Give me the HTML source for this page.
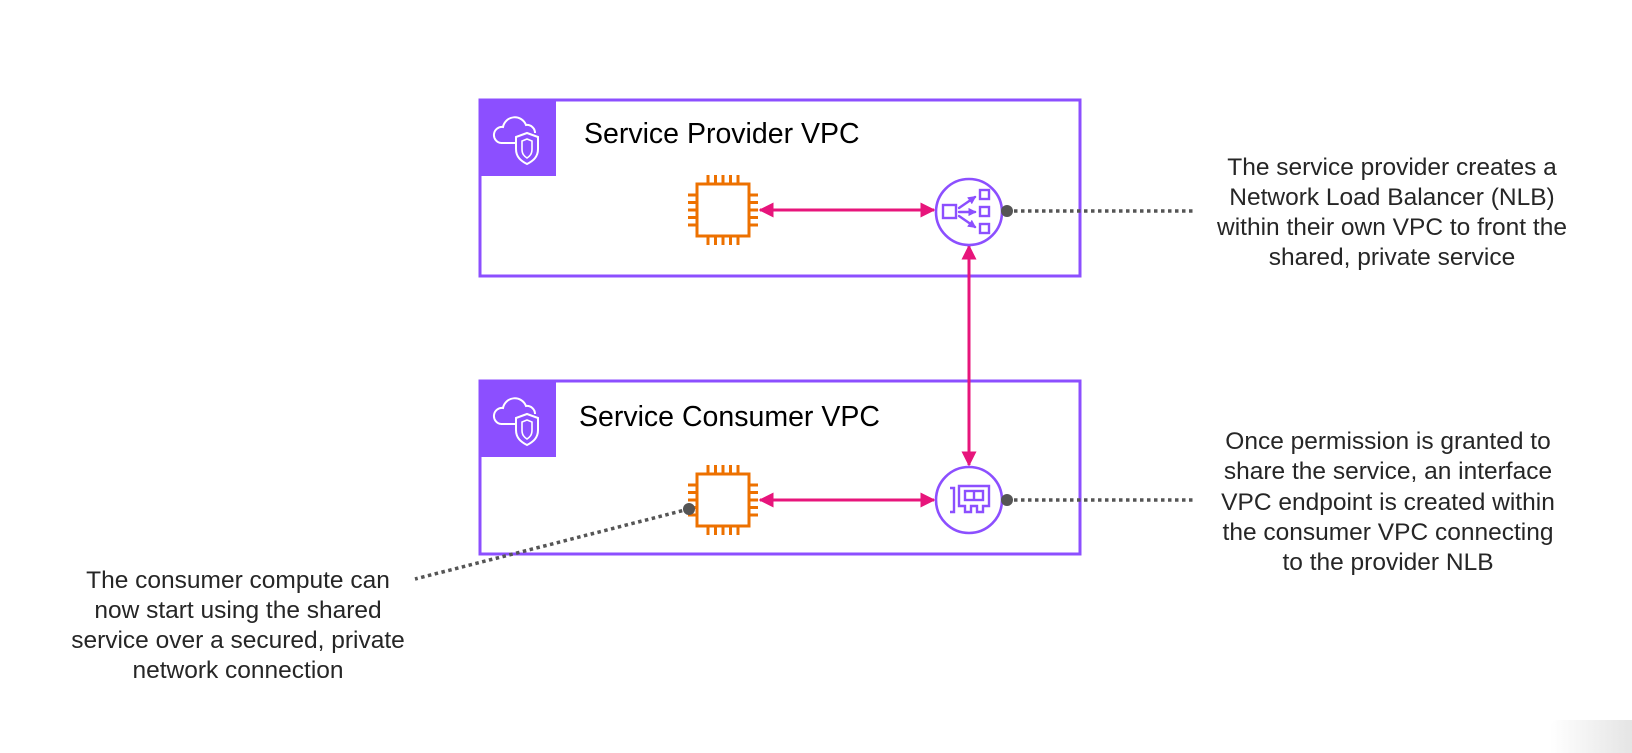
<!DOCTYPE html>
<html><head><meta charset="utf-8"><style>
html,body{margin:0;padding:0;background:#fff;}
svg{display:block}
.t{font-family:"Liberation Sans",sans-serif;font-size:24.5px;fill:#262626;text-anchor:middle}
.h{font-family:"Liberation Sans",sans-serif;font-size:28.5px;fill:#000}
</style></head><body>
<svg width="1632" height="753" viewBox="0 0 1632 753" xmlns="http://www.w3.org/2000/svg">
<defs>
<marker id="a" viewBox="0 0 10 10" refX="9" refY="5" markerWidth="5" markerHeight="5" orient="auto-start-reverse"><path d="M0,0 L10,5 L0,10 z" fill="#e7157b"/></marker>
<marker id="p" viewBox="0 0 10 10" refX="8" refY="5" markerWidth="3.5" markerHeight="3.5" orient="auto"><path d="M0,0 L10,5 L0,10 z" fill="#8c4fff"/></marker>
<linearGradient id="g" x1="0" x2="1"><stop offset="0" stop-color="#fff"/><stop offset="1" stop-color="#e2e2e2"/></linearGradient>
<g id="cloud">
<rect x="0" y="0" width="77" height="77" fill="#8c4fff"/>
<path d="M22,44 a8,8 0 0 1 2,-16 a12,12 0 0 1 23,-2 a8,8 0 0 1 9,8" fill="none" stroke="#fff" stroke-width="2"/>
<path d="M22,44 h14" fill="none" stroke="#fff" stroke-width="2"/>
<path d="M48,34 l11,4 v12 c0,8 -5,12 -11,15 c-6,-3 -11,-7 -11,-15 v-12 z" fill="none" stroke="#fff" stroke-width="2"/>
<path d="M48,40 l5,2 v8 c0,5 -2,7 -5,9 c-3,-2 -5,-4 -5,-9 v-8 z" fill="none" stroke="#fff" stroke-width="1.6"/>
</g>
<g id="cpu" fill="none" stroke="#ed7100" stroke-width="3">
<rect x="-26" y="-26" width="52" height="52"/>
<path d="M-15,-26v-9M-7.5,-26v-9M0,-26v-9M7.5,-26v-9M15,-26v-9M-15,26v9M-7.5,26v9M0,26v9M7.5,26v9M15,26v9M-26,-15h-9M-26,-7.5h-9M-26,0h-9M-26,7.5h-9M-26,15h-9M26,-15h9M26,-7.5h9M26,0h9M26,7.5h9M26,15h9"/>
</g>
</defs>
<rect x="480" y="100" width="600" height="176" fill="none" stroke="#8c4fff" stroke-width="3"/>
<use href="#cloud" x="479" y="99"/>
<text class="h" x="584" y="143">Service Provider VPC</text>
<rect x="480" y="381" width="600" height="173" fill="none" stroke="#8c4fff" stroke-width="3"/>
<use href="#cloud" x="479" y="380"/>
<text class="h" x="579" y="426">Service Consumer VPC</text>

<use href="#cpu" x="723" y="210"/>
<use href="#cpu" x="723" y="500"/>

<line x1="760" y1="210" x2="934" y2="210" stroke="#e7157b" stroke-width="3" marker-start="url(#a)" marker-end="url(#a)"/>
<line x1="760" y1="500" x2="934" y2="500" stroke="#e7157b" stroke-width="3" marker-start="url(#a)" marker-end="url(#a)"/>
<line x1="969" y1="246" x2="969" y2="465" stroke="#e7157b" stroke-width="3" marker-start="url(#a)" marker-end="url(#a)"/>

<circle cx="969" cy="212" r="33" fill="#fff" stroke="#8c4fff" stroke-width="2.6"/>
<g fill="none" stroke="#8c4fff" stroke-width="2.4" stroke-linecap="round">
<rect x="943" y="205" width="13" height="13"/>
<rect x="980" y="190" width="9" height="9"/><rect x="980" y="207" width="9" height="9"/><rect x="980" y="224" width="9" height="9"/>
<path d="M959,208 l16,-11" marker-end="url(#p)"/><path d="M959,212 h16" marker-end="url(#p)"/><path d="M959,216 l16,11" marker-end="url(#p)"/>
</g>
<circle cx="969" cy="500" r="33" fill="#fff" stroke="#8c4fff" stroke-width="2.6"/>
<g fill="none" stroke="#8c4fff" stroke-width="2.4">
<path d="M950,488 h4 v24 h-4"/>
<path d="M959,486 h30 v20 h-6 v6 h-6 v-6 h-6 v6 h-6 v-6 h-6 z"/>
<rect x="965" y="491" width="18" height="9"/><path d="M974,491 v9"/>
</g>

<g stroke="#555" stroke-width="3.5" stroke-dasharray="3.5,3.5">
<line x1="1007" y1="211" x2="1196" y2="211"/>
<line x1="1007" y1="500" x2="1196" y2="500"/>
<line x1="689" y1="509" x2="415" y2="579"/>
</g>
<circle cx="1007" cy="211" r="6" fill="#555"/>
<circle cx="1007" cy="500" r="6" fill="#555"/>
<circle cx="689" cy="509" r="6" fill="#555"/>

<text class="t"><tspan x="1392" y="175">The service provider creates a</tspan><tspan x="1392" y="205">Network Load Balancer (NLB)</tspan><tspan x="1392" y="235">within their own VPC to front the</tspan><tspan x="1392" y="265">shared, private service</tspan></text>
<text class="t"><tspan x="1388" y="449">Once permission is granted to</tspan><tspan x="1388" y="479">share the service, an interface</tspan><tspan x="1388" y="510">VPC endpoint is created within</tspan><tspan x="1388" y="540">the consumer VPC connecting</tspan><tspan x="1388" y="570">to the provider NLB</tspan></text>
<text class="t"><tspan x="238" y="588">The consumer compute can</tspan><tspan x="238" y="618">now start using the shared</tspan><tspan x="238" y="648">service over a secured, private</tspan><tspan x="238" y="678">network connection</tspan></text>

<rect x="1550" y="720" width="90" height="40" rx="8" fill="url(#g)"/>
</svg>
</body></html>
